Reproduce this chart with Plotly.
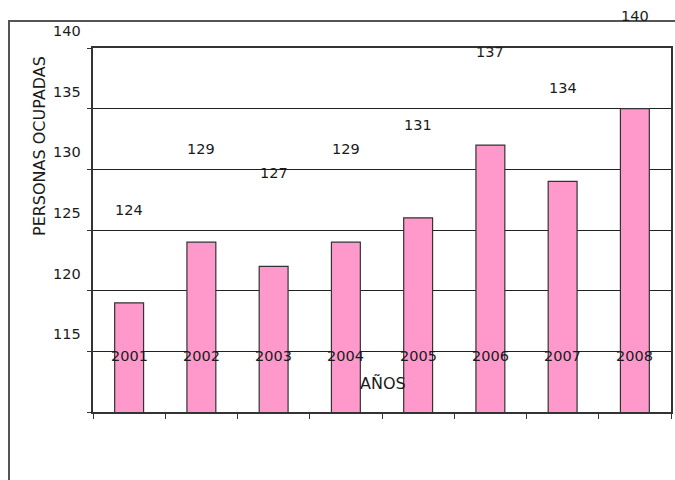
import plotly.graph_objects as go

# Employed persons per year
years = ["2001", "2002", "2003", "2004", "2005", "2006", "2007", "2008"]
personas = [124, 129, 127, 129, 131, 137, 134, 140]
y_tick_labels = [115, 120, 125, 130, 135, 140]

W, H = 675, 480
FONT = "DejaVu Sans"
INK = "#1a1a1a"
LINE = "#333333"

# plot area in pixels
left_px, right_px, top_px, bottom_px = 93, 671, 48, 412
y_min, y_max = 115, 145

dom_x = [left_px / W, right_px / W]
dom_y = [1 - bottom_px / H, 1 - top_px / H]

fig = go.Figure()

fig.add_trace(go.Bar(
    x=years, y=personas, width=0.4,
    marker=dict(color="#FF99CC", line=dict(color=LINE, width=1.2)),
    hoverinfo="skip",
))

fig.update_layout(
    width=W, height=H,
    margin=dict(l=0, r=0, t=0, b=0),
    paper_bgcolor="white", plot_bgcolor="white",
    showlegend=False,
    xaxis=dict(
        type="category", domain=dom_x, range=[-0.5, len(years) - 0.5],
        showgrid=False, showline=True, linecolor=LINE, linewidth=1.5,
        mirror=True, ticks="outside", ticklen=5, tickcolor=LINE,
        tickson="boundaries", showticklabels=False,
    ),
    yaxis=dict(
        domain=dom_y, range=[y_min, y_max],
        tickvals=list(range(y_min, y_max + 1, 5)),
        showgrid=True, gridcolor="#222222", gridwidth=1,
        showline=True, linecolor=LINE, linewidth=1.5, mirror=True,
        ticks="outside", ticklen=4, tickcolor=LINE,
        showticklabels=False, zeroline=False,
    ),
)

# chart frame (left and top edges)
fig.add_shape(
    type="rect", xref="paper", yref="paper",
    x0=9 / W, x1=1.02, y0=-0.05, y1=1 - 21 / H,
    line=dict(color="#555555", width=2), fillcolor="rgba(0,0,0,0)",
    layer="below",
)

num_font = dict(family=FONT, size=14.5, color=INK)

# printed value scale, one step up from each gridline
for v in y_tick_labels:
    fig.add_annotation(
        x=83 / W, xref="paper", y=v + 5, yref="y", yshift=17,
        text=str(v), showarrow=False, xanchor="right", yanchor="middle",
        font=num_font,
    )

# value labels lifted above the bars (category index positions)
for i, v in enumerate(personas):
    fig.add_annotation(
        x=i, xref="x", y=v, yref="y", yshift=93,
        text=str(v), showarrow=False, xanchor="center", yanchor="middle",
        font=num_font,
    )

# category labels
for i, yr in enumerate(years):
    fig.add_annotation(
        x=i, xref="x", y=1 - 356 / H, yref="paper",
        text=yr, showarrow=False, xanchor="center", yanchor="middle",
        font=num_font,
    )

# axis titles
fig.add_annotation(
    x=383 / W, y=1 - 383 / H, xref="paper", yref="paper",
    text="AÑOS", showarrow=False, xanchor="center", yanchor="middle",
    font=dict(family=FONT, size=16, color=INK),
)
fig.add_annotation(
    x=39 / W, y=1 - 146 / H, xref="paper", yref="paper",
    text="PERSONAS OCUPADAS", textangle=-90, showarrow=False,
    xanchor="center", yanchor="middle",
    font=dict(family=FONT, size=16, color=INK),
)

fig.write_html("out.html")
